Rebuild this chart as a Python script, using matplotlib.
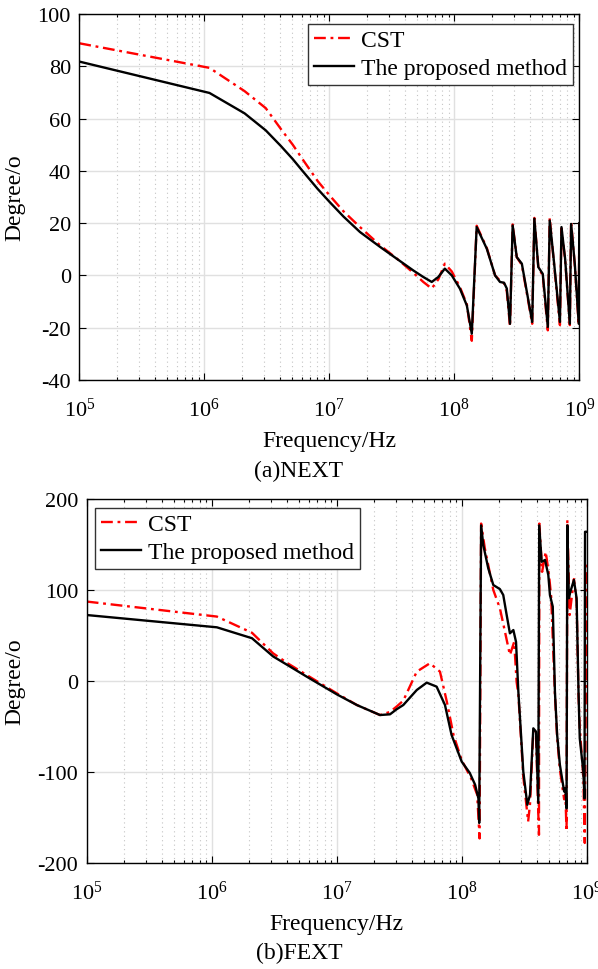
import numpy as np
import matplotlib
matplotlib.use("Agg")
import matplotlib.pyplot as plt
import matplotlib.ticker as mtick

plt.rcParams['font.family'] = ['Liberation Serif', 'DejaVu Serif']
plt.rcParams['mathtext.fontset'] = 'custom'
plt.rcParams['mathtext.rm'] = 'Liberation Serif'
plt.rcParams['axes.unicode_minus'] = False

# (a) NEXT
next_f_cst = [1e5, 1.1e6, 2.1e6, 3.1e6, 4.1e6, 5.1e6, 6.1e6, 8.1e6, 1.01e7, 1.3e7, 1.76e7,
              2.55e7, 3.46e7, 4.7e7, 5.65e7, 6.6e7, 7.45e7, 8.4e7, 9.55e7, 1.11e8, 1.26e8,
              1.38e8, 1.51e8, 1.82e8, 2.12e8, 2.32e8, 2.5e8, 2.63e8, 2.79e8, 2.93e8, 3.16e8,
              3.47e8, 4.2e8, 4.37e8, 4.7e8, 5.1e8, 5.6e8, 5.8e8, 6.2e8, 7e8, 7.2e8, 7.7e8,
              8.4e8, 8.6e8, 9.2e8, 9.9e8, 1e9]
next_cst = [88.8, 79.4, 70.5, 64.0, 56.0, 50.0, 44.5, 36.0, 30.5, 24.5, 18.5,
            11.5, 6.5, 1.0, -2.5, -5.0, -1.5, 4.5, 1.5, -4.5, -11.0,
            -25.0, 19.0, 10.5, 0.0, -2.0, -3.0, -6.0, -19.5, 19.5, 7.0,
            4.0, -18.5, 22.0, 3.0, 0.0, -21.0, 22.0, 7.0, -19.0, 18.0, 6.0,
            -19.0, 20.5, 4.0, -19.0, 20.0]
next_f_model = [1e5, 1.1e6, 2.1e6, 3.1e6, 4.1e6, 5.1e6, 6.1e6, 8.1e6, 1.01e7, 1.3e7, 1.76e7,
                2.55e7, 3.46e7, 4.7e7, 5.65e7, 6.6e7, 7.45e7, 8.4e7, 9.55e7, 1.11e8, 1.26e8,
                1.38e8, 1.51e8, 1.82e8, 2.12e8, 2.32e8, 2.5e8, 2.63e8, 2.79e8, 2.93e8, 3.16e8,
                3.47e8, 4.2e8, 4.37e8, 4.7e8, 5.1e8, 5.6e8, 5.8e8, 6.2e8, 7e8, 7.2e8, 7.7e8,
                8.4e8, 8.6e8, 9.2e8, 9.9e8, 1e9]
next_model = [81.8, 69.8, 62.0, 55.5, 49.5, 44.5, 40.0, 33.0, 28.0, 22.5, 16.6,
              10.9, 6.4, 1.9, -0.6, -2.5, -0.6, 2.6, 0.0, -5.1, -11.5,
              -22.3, 18.5, 10.2, 0.0, -2.5, -2.8, -5.0, -18.5, 19.1, 7.0,
              4.5, -17.8, 21.7, 3.2, 0.6, -19.7, 21.0, 7.6, -17.8, 18.5, 6.4,
              -18.5, 19.7, 4.5, -18.5, 20.0]

# (b) FEXT
fext_f_cst = [1e5, 1.1e6, 2.1e6, 3.1e6, 4.1e6, 5.75e6, 1e7, 1.45e7, 2.22e7, 2.67e7, 3.02e7,
              3.41e7, 4.37e7, 5.57e7, 6.7e7, 7.6e7, 8.6e7, 1e8, 1.19e8, 1.33e8, 1.39e8,
              1.43e8, 1.53e8, 1.79e8, 2.02e8, 2.22e8, 2.43e8, 2.63e8, 2.75e8, 2.84e8,
              3.11e8, 3.4e8, 3.52e8, 3.74e8, 3.93e8, 4.15e8, 4.18e8, 4.4e8, 4.7e8, 5e8,
              5.2e8, 5.57e8, 5.8e8, 6.1e8, 6.6e8, 6.75e8, 6.9e8, 7e8, 7.3e8, 7.9e8, 8.3e8,
              8.6e8, 8.8e8, 9.4e8, 9.65e8, 1e9]
fext_cst = [87.3, 70.8, 53.0, 30.4, 19.0, 6.6, -13.5, -26.4, -37.4, -34.0, -28.0,
            -21.6, 10.3, 19.5, 10.3, -22.6, -59.3, -87.0, -107.0, -125.0, -173.0,
            173.0, 146.0, 100.0, 80.0, 54.0, 28.6, 43.0, -1.0, -15.0,
            -105.0, -154.5, -135.0, -55.0, -60.0, -169.0, 173.0, 120.0, 142.0, 116.0,
            92.0, -15.0, -62.0, -97.0, -130.0, -125.0, -165.0, 177.0, 72.5, 112.0, 88.0,
            -15.0, -52.0, -105.0, -178.0, 131.0]
fext_f_model = [1e5, 1.1e6, 2.1e6, 3.1e6, 4.1e6, 5.75e6, 1e7, 1.45e7, 2.22e7, 2.67e7, 3.02e7,
                3.41e7, 4.37e7, 5.25e7, 6.3e7, 7.35e7, 8.3e7, 1e8, 1.16e8, 1.28e8, 1.36e8,
                1.38e8, 1.43e8, 1.49e8, 1.63e8, 1.79e8, 2.02e8, 2.15e8, 2.29e8, 2.43e8,
                2.59e8, 2.72e8, 2.84e8, 3.11e8, 3.35e8, 3.52e8, 3.74e8, 3.93e8, 4.1e8,
                4.17e8, 4.36e8, 4.64e8, 4.93e8, 5.08e8, 5.35e8, 5.57e8, 5.8e8, 6.1e8,
                6.6e8, 6.75e8, 6.9e8, 7e8, 7.2e8, 7.4e8, 7.9e8, 8.3e8, 8.6e8, 8.8e8,
                9.4e8, 9.6e8, 9.7e8, 1e9]
fext_model = [72.5, 59.0, 47.0, 27.0, 17.0, 4.8, -14.6, -26.4, -37.4, -36.6, -31.0,
              -26.4, -9.9, -1.8, -6.2, -26.4, -59.3, -88.6, -101.0, -114.0, -129.0,
              -156.0, 171.0, 149.0, 124.0, 105.5, 101.0, 94.5, 72.5, 52.4,
              56.0, 43.0, -12.0, -99.6, -136.0, -125.0, -52.0, -55.6, -134.0,
              171.0, 131.0, 133.0, 116.5, 94.5, 81.8, -12.0, -59.0, -92.0,
              -121.5, -118.0, -140.0, 171.0, 91.0, 98.0, 111.0, 91.0, -12.0, -63.0,
              -99.6, -129.0, 164.0, 164.0]

W, H = 598.0, 970.0
fig = plt.figure(figsize=(W / 100, H / 100), dpi=100)


def make_ax(left, top, right, bottom):
    return fig.add_axes([left / W, 1 - bottom / H, (right - left) / W, (bottom - top) / H])


def style(ax, ylim, yticks, left_px):
    ax.set_xscale('log')
    ax.set_xlim(1e5, 1e9)
    ax.set_ylim(*ylim)
    ax.set_yticks(yticks)
    ax.xaxis.set_major_locator(mtick.LogLocator(base=10, numticks=10))
    ax.xaxis.set_minor_locator(mtick.LogLocator(base=10, subs=np.arange(2, 10), numticks=20))
    ax.xaxis.set_minor_formatter(mtick.NullFormatter())
    ax.grid(True, which='major', color='#e0e0e0', linewidth=1.0)
    ax.grid(True, which='minor', axis='x', color='#c4c4c4', linestyle=(0, (1, 3)), linewidth=0.8)
    ax.set_axisbelow(True)
    ax.tick_params(which='both', direction='in', top=True, right=True, labelsize=16, width=0.8)
    ax.tick_params(axis='x', which='major', pad=13)
    ax.tick_params(axis='y', which='major', pad=6)
    ax.tick_params(which='major', length=5)
    ax.tick_params(which='minor', length=2.5)
    for s in ax.spines.values():
        s.set_linewidth(1.0)
    ax.set_xlabel('Frequency/Hz', fontsize=17, labelpad=6)
    ax.set_ylabel('Degree/o', fontsize=17)
    ax.yaxis.set_label_coords((25 - left_px) / 500.0, 0.5)


cst_style = dict(color='red', linestyle=(0, (5, 2, 1.2, 2)), linewidth=1.7, label='CST')
model_style = dict(color='black', linewidth=1.7, label='The proposed method')
leg_style = dict(fontsize=17, fancybox=False, edgecolor='#333333', framealpha=1,
                 borderpad=0.25, handlelength=1.7, handletextpad=0.3, labelspacing=0.25,
                 borderaxespad=0)

ax1 = make_ax(79.3, 15, 579.3, 381)
ax1.plot(next_f_cst, next_cst, **cst_style)
ax1.plot(next_f_model, next_model, **model_style)
style(ax1, (-40, 100), range(-40, 101, 20), 79.3)
leg1 = ax1.legend(loc='upper right', bbox_to_anchor=((573 - 79.3) / 500, 1 - 10 / 366), **leg_style)
leg1.get_frame().set_linewidth(1.0)
fig.text(0.5, 1 - 471 / H, '(a)NEXT', ha='center', va='center', fontsize=17)

ax2 = make_ax(86.7, 500, 586.7, 864)
ax2.plot(fext_f_cst, fext_cst, **cst_style)
ax2.plot(fext_f_model, fext_model, **model_style)
style(ax2, (-200, 200), range(-200, 201, 100), 86.7)
leg2 = ax2.legend(loc='upper left', bbox_to_anchor=((95 - 86.7) / 500, 1 - 9 / 364), **leg_style)
leg2.get_frame().set_linewidth(1.0)
fig.text(0.5, 1 - 953 / H, '(b)FEXT', ha='center', va='center', fontsize=17)

fig.savefig('out.png', dpi=100)
